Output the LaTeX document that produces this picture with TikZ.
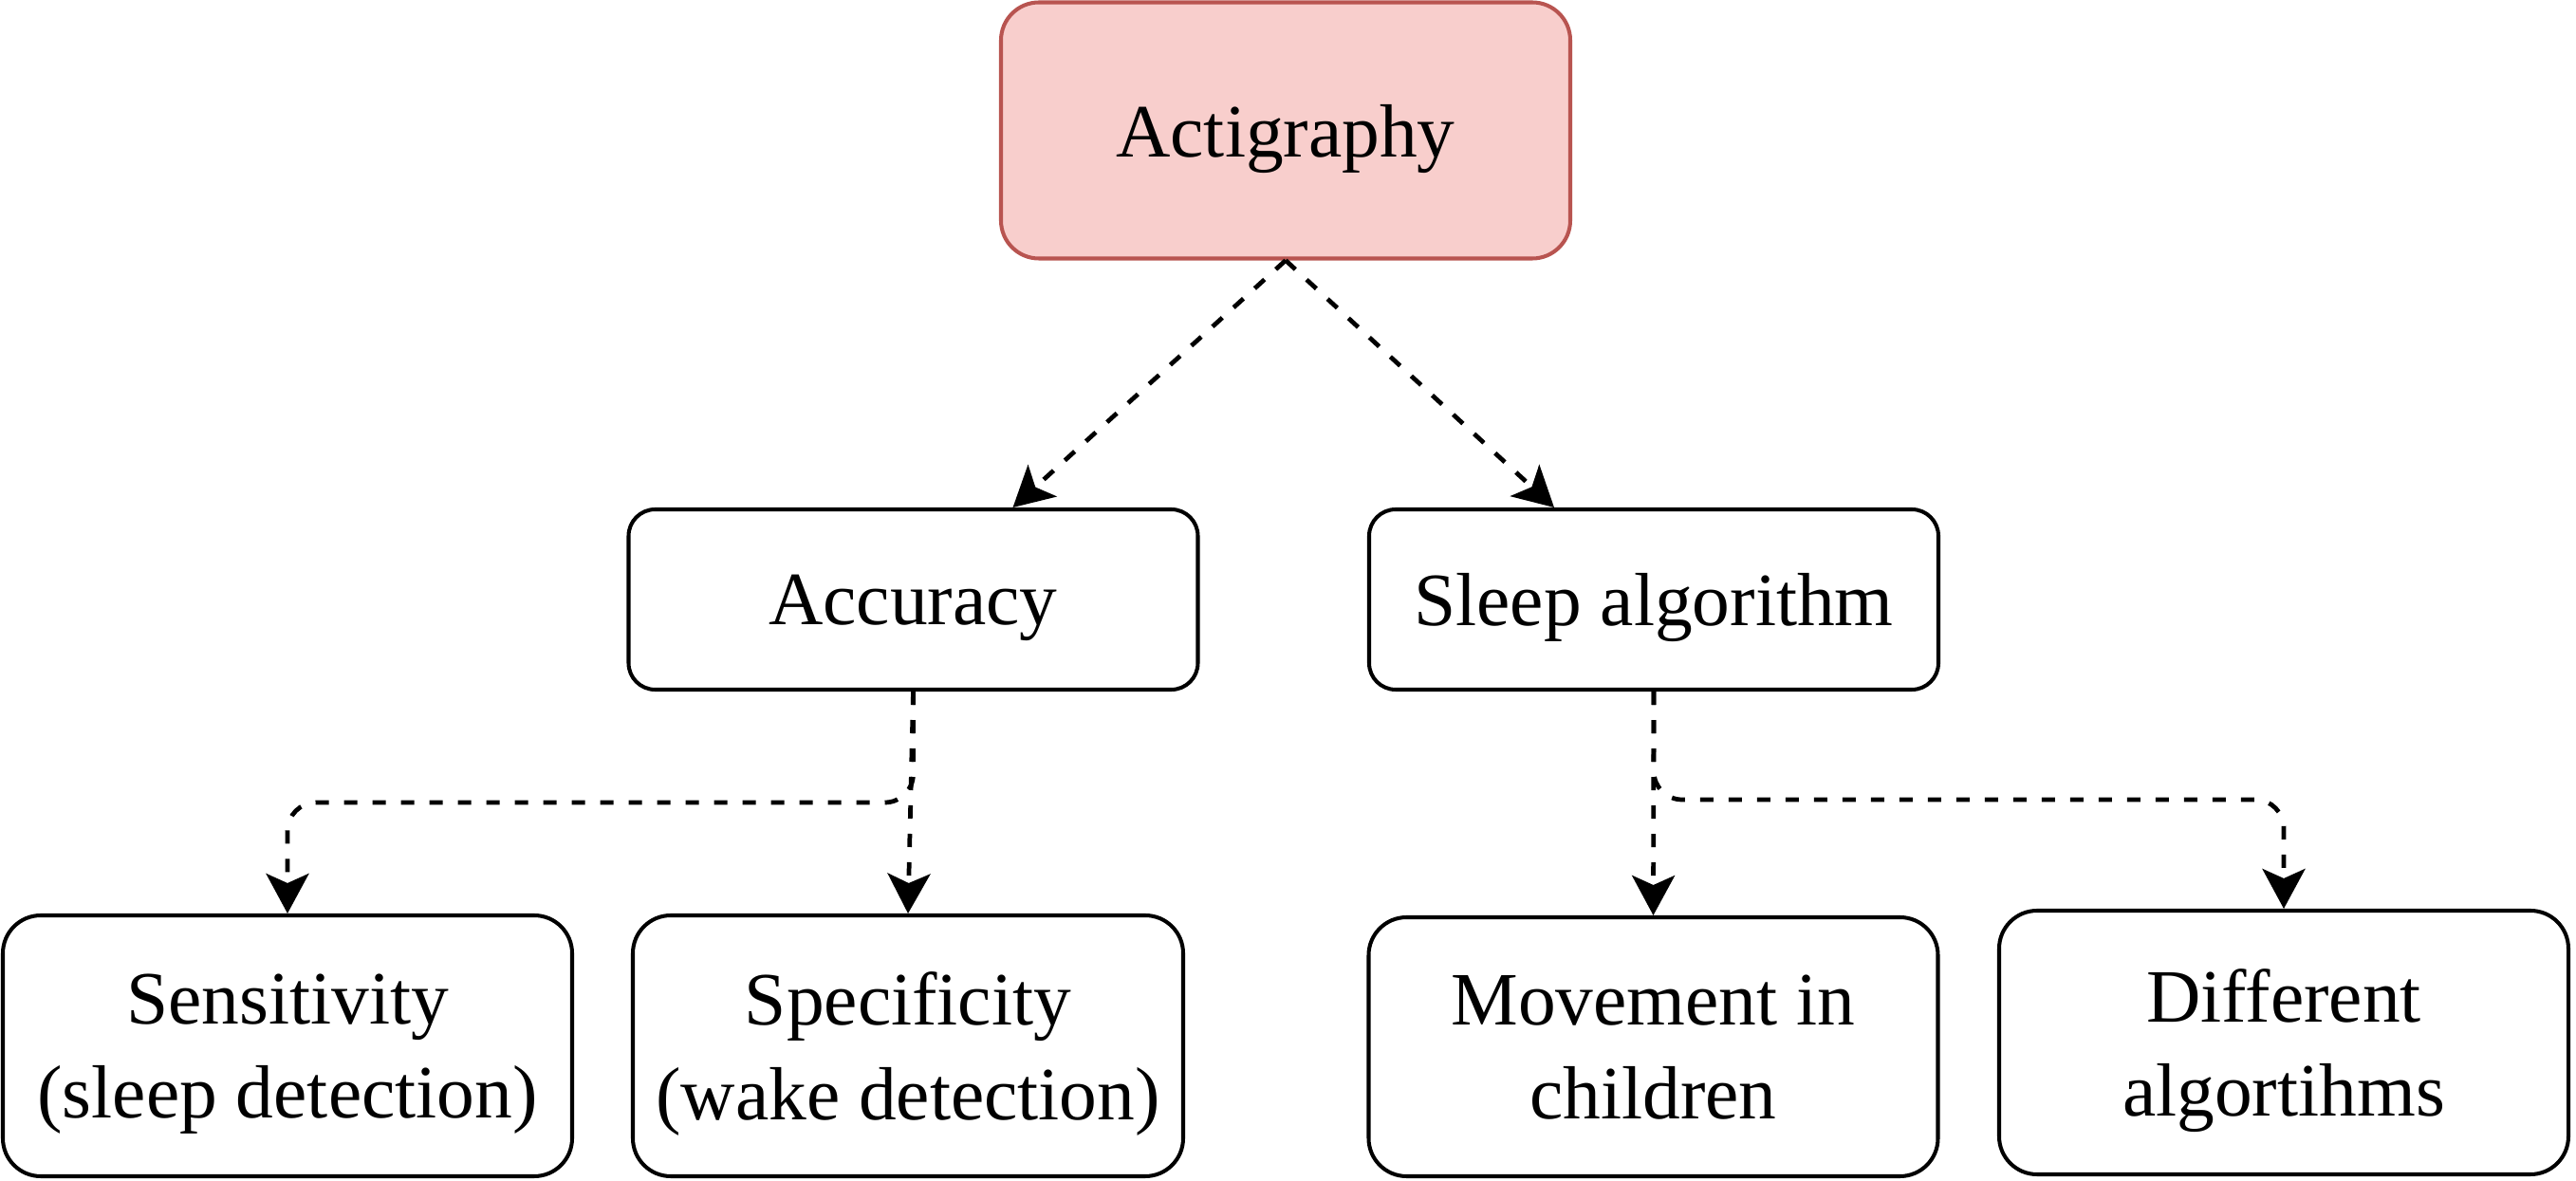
\documentclass[tikz,border=0pt]{standalone}
\usepackage{fontspec}
\setmainfont{Liberation Serif}
\usepackage{tikz}
\usetikzlibrary{positioning,arrows.meta,calc}
\usepackage{xcolor}
\definecolor{topfill}{HTML}{F8CECC}
\definecolor{topdraw}{HTML}{B85450}

\begin{document}
\begin{tikzpicture}[
  topic/.style={draw=topdraw, fill=topfill, line width=1.15pt, rounded corners=0.4cm, minimum width=6cm, minimum height=2.7cm, align=center, text depth=0pt, font=\fontsize{22.6}{28.2}\selectfont},
  branch/.style={draw, line width=1.15pt, rounded corners=0.28cm, minimum width=6cm, minimum height=1.9cm, align=center, text depth=0pt, font=\fontsize{22.6}{28.2}\selectfont},
  leaf/.style={draw, line width=1.15pt, rounded corners=0.4cm, minimum width=6cm, minimum height=2.75cm, align=center, text depth=0pt, font=\fontsize{22.6}{28.2}\selectfont},
  link/.style={line width=1.35pt, dash pattern=on 0.14cm off 0.16cm, -{Stealth[length=0.42cm, width=0.45cm, inset=0.1cm]}}
]
  \useasboundingbox (0,0) rectangle (27.15,-12.45);

  \node[topic] (acti) at (13.55,-1.375) {Actigraphy};

  \node[branch] (acc) at (9.625,-6.32) {Accuracy};
  \node[branch] (sleep) at (17.43,-6.32) {Sleep algorithm};

  \node[leaf] (sens) at (3.03,-11.025) {Sensitivity\\(sleep detection)};
  \node[leaf, minimum width=5.8cm] (spec) at (9.57,-11.025) {Specificity\\(wake detection)};
  \node[leaf, minimum height=2.73cm] (move) at (17.425,-11.035) {Movement in\\children};
  \node[leaf, minimum height=2.78cm] (diff) at (24.07,-10.99) {Different\\algortihms};

  \coordinate (accsplit) at (9.625,-8.46);
  \coordinate (sleepsplit) at (17.43,-8.43);

  \draw[link] (acti.south) -- ($(acc.north)+(1.05,0)$);
  \draw[link] (acti.south) -- ($(sleep.north)+(-1.05,0)$);

  \draw[link] (acc.south) -- (spec.north);
  \draw[link, rounded corners=0.3cm] (acc.south) -- (accsplit) -| (sens.north);

  \draw[link] (sleep.south) -- (move.north);
  \draw[link, rounded corners=0.3cm] (sleep.south) -- (sleepsplit) -| (diff.north);
\end{tikzpicture}
\end{document}
